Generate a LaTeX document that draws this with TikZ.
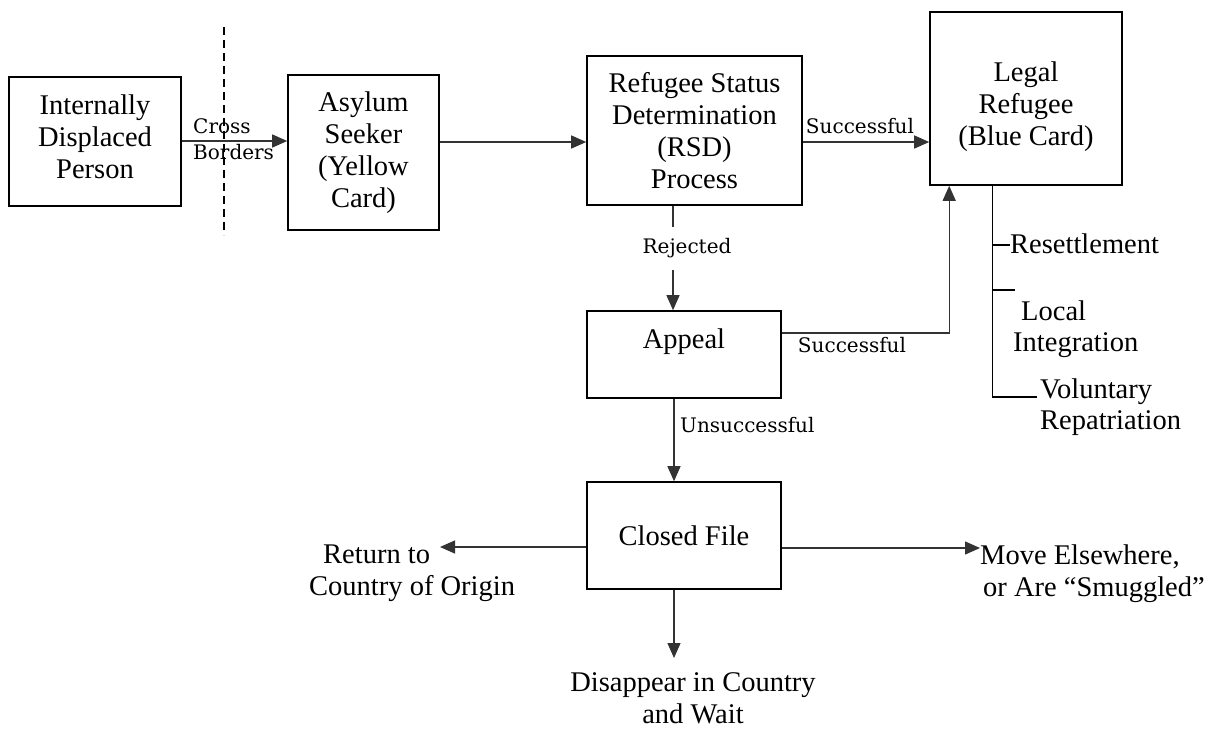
\documentclass[tikz,border=0pt]{standalone}
\usepackage{fontspec}
\setmainfont{Liberation Serif}
\newfontfamily\lblfont{DejaVu Serif}
\usetikzlibrary{arrows.meta}
\tikzset{
  box/.style={draw=black, line width=1.6pt, inner sep=0pt, align=center,
    font=\fontsize{28.5}{32}\selectfont},
  txt/.style={inner sep=0pt, font=\fontsize{28.5}{31.5}\selectfont},
  lbl/.style={inner sep=0pt, font=\lblfont\fontsize{20}{26}\selectfont},
  conn/.style={draw=black!80, line width=1.3pt},
  arr/.style={conn, -{Triangle[length=15pt,width=13pt]}},
}
\begin{document}
\begin{tikzpicture}[x=1pt,y=-1pt]
\useasboundingbox (0,0) rectangle (1210,729);

% boxes
\node[box, minimum width=172pt, minimum height=129pt] (idp) at (95,141.5)
  {Internally\\Displaced\\Person\\[-22pt]\mbox{}};
\node[box, minimum width=151pt, minimum height=155pt] (asy) at (363.5,152.5)
  {Asylum\\Seeker\\(Yellow\\Card)};
\node[box, minimum width=215pt, minimum height=149pt] (rsd) at (694.5,130.5)
  {Refugee Status\\Determination\\(RSD)\\Process};
\node[box, minimum width=192pt, minimum height=173pt] (legal) at (1026,98.5)
  {\mbox{}\\[4.5pt]Legal\\Refugee\\(Blue Card)};
\node[box, minimum width=194pt, minimum height=87pt] (appeal) at (684,354.5)
  {Appeal\\\mbox{}};
\node[box, minimum width=194pt, minimum height=107pt] (closed) at (684,535.5)
  {Closed File};

% border line
\coordinate (bt) at (224,27);
\coordinate (bb) at (224,235);
\draw[black, line width=1.8pt, dash pattern=on 8pt off 5pt] (bt) -- (bb);

% main flow
\draw[arr] (idp.east |- 0,141) -- (asy.west |- 0,141);
\node[lbl, anchor=west, align=left] (cross) at (193,139) {Cross\\Borders};
\draw[arr] (asy.east |- 0,142) -- (rsd.west |- 0,142);
\draw[arr] (rsd.east |- 0,142) -- (legal.west |- 0,142);
\node[lbl, anchor=base] (succ1) at (860,133) {Successful};

% rejected
\node[lbl, anchor=base] (rej) at (687,253) {Rejected};
\draw[conn] (rsd.south -| 673,0) -- (673,227);
\draw[arr] (673,270) -- (appeal.north -| 673,0);

% appeal successful
\coordinate (lup) at ([xshift=20pt]legal.south west);
\draw[arr] (appeal.east |- 0,333) -| (lup);
\node[lbl, anchor=base] (succ2) at (852,352) {Successful};

% unsuccessful
\draw[arr] (appeal.south -| 674,0) -- (closed.north -| 674,0);
\node[lbl, anchor=base west] (unsucc) at (680,432) {Unsuccessful};

% legal refugee options
\node[txt, anchor=base west] (reset) at (1010,253) {Resettlement};
\node[txt, anchor=west, align=left] (local) at (1013,329) {\hspace*{8pt}Local\\Integration};
\node[txt, anchor=west, align=left] (volun) at (1040,407) {Voluntary\\Repatriation};
\coordinate (b0) at ([xshift=63pt]legal.south west);
\coordinate (t2) at (1015,290);
\coordinate (t3) at (1037,397);
\draw[draw=black, line width=1.3pt] (b0) -- (b0 |- t3) -- (t3);
\draw[draw=black, line width=1.3pt] (b0 |- 0,245) -- (reset.west |- 0,245);
\draw[draw=black, line width=1.3pt] (b0 |- t2) -- (t2);

% closed file outcomes
\node[txt, anchor=west, align=left] (ret) at (309,573) {\hspace*{14pt}Return to\\Country of Origin};
\node[txt, anchor=west, align=left] (move) at (980,573.5) {Move Elsewhere,\\\hspace*{3pt}or Are “Smuggled”};
\node[txt, align=center] (disap) at (693,698.5) {Disappear in Country\\and Wait};
\draw[arr] (closed.west |- 0,547) -- (440,547);
\draw[arr] (closed.east |- 0,548) -- (move.west |- 0,548);
\draw[arr] (closed.south -| 674,0) -- (674,658);
\end{tikzpicture}
\end{document}
